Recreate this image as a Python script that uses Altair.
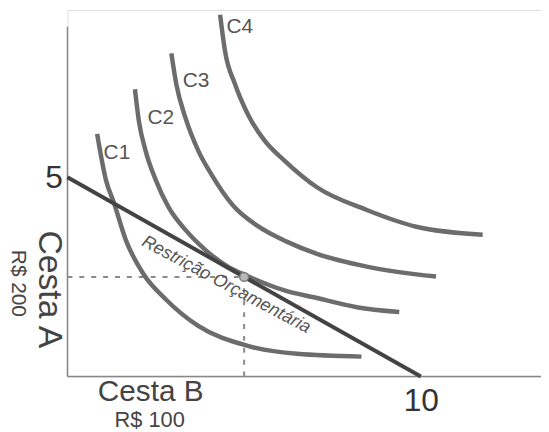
import altair as alt
import pandas as pd

# Indifference curves
c1_x = [0.84, 1.09, 1.32, 1.65, 2.16, 2.78, 3.70, 5.10, 6.50, 8.32]
c1_y = [6.09, 4.93, 4.35, 3.43, 2.56, 1.94, 1.27, 0.77, 0.57, 0.50]
c2_x = [1.91, 2.02, 2.21, 2.50, 2.86, 3.34, 3.90, 4.54, 5.05, 6.14, 7.06, 8.19, 9.39]
c2_y = [7.21, 6.42, 5.67, 4.93, 4.25, 3.68, 3.18, 2.76, 2.54, 2.16, 1.97, 1.74, 1.62]
c3_x = [2.94, 3.08, 3.34, 3.70, 4.09, 4.68, 5.38, 6.22, 7.06, 8.47, 10.43]
c3_y = [8.11, 7.34, 6.49, 5.67, 5.05, 4.30, 3.78, 3.38, 3.08, 2.76, 2.51]
c4_x = [4.32, 4.46, 4.74, 5.10, 5.58, 6.14, 7.06, 8.47, 9.87, 11.75]
c4_y = [9.08, 8.16, 7.34, 6.59, 5.92, 5.42, 4.75, 4.18, 3.76, 3.56]

curve_names = ["C1", "C2", "C3", "C4"]
label_x = [1.40, 2.64, 3.64, 4.88]
label_y = [5.60, 6.49, 7.41, 8.78]

# Budget line
budget_x = [0, 10]
budget_y = [5, 0]

# Optimum point
opt_x = 5
opt_y = 2.5

x_ticks = [10]
y_ticks = [5]

X_MAX = 13.4
Y_MAX = 9.2
Y_AXIS_TOP = 8.78

FONT = "Liberation Sans"

rows = []
for name, xs_, ys_ in zip(curve_names, [c1_x, c2_x, c3_x, c4_x], [c1_y, c2_y, c3_y, c4_y]):
    for i, (a, b) in enumerate(zip(xs_, ys_)):
        rows.append({"curve": name, "i": i, "x": a, "y": b})
curves = pd.DataFrame(rows)
budget = pd.DataFrame({"x": budget_x, "y": budget_y})
labels = pd.DataFrame({"label": curve_names, "x": label_x, "y": label_y})

xaxis = alt.Axis(values=x_ticks, labelFontSize=32, labelFont=FONT, labelColor="#333",
                 domain=False, ticks=False, grid=False, title=None, labelPadding=9)
yaxis = alt.Axis(values=y_ticks, labelFontSize=32, labelFont=FONT, labelColor="#333",
                 domain=False, ticks=False, grid=False, title=None, labelPadding=5)
xs = alt.Scale(domain=[0, X_MAX], nice=False, zero=False)
ys = alt.Scale(domain=[0, Y_MAX], nice=False, zero=False)

def X(f="x"):
    return alt.X(f + ":Q", scale=xs, axis=xaxis)

def Y(f="y"):
    return alt.Y(f + ":Q", scale=ys, axis=yaxis)

# axis lines
axes_df = pd.DataFrame({"x": [0, 0], "x2": [0, X_MAX], "y": [0, 0], "y2": [Y_AXIS_TOP, 0]})
axis_lines = alt.Chart(axes_df).mark_rule(color="#888", strokeWidth=1.5).encode(
    x=X(), x2="x2:Q", y=Y(), y2="y2:Q")

# dashed guides
guides_df = pd.DataFrame({"x": [0, opt_x], "x2": [opt_x, opt_x], "y": [opt_y, 0], "y2": [opt_y, opt_y]})
guides = alt.Chart(guides_df).mark_rule(color="#8a8a8a", strokeWidth=2, strokeDash=[5, 7]).encode(
    x=X(), x2="x2:Q", y=Y(), y2="y2:Q")

curve_lines = alt.Chart(curves).mark_line(color="#6c6c6c", strokeWidth=4.5, interpolate="monotone",
                                          strokeCap="butt").encode(
    x=X(), y=Y(), detail="curve:N", order="i:Q")

budget_line = alt.Chart(budget).mark_line(color="#434343", strokeWidth=4).encode(x=X(), y=Y())

point = alt.Chart(pd.DataFrame({"x": [opt_x], "y": [opt_y]})).mark_point(
    filled=True, color="#b8b8b8", stroke="#7a7a7a", strokeWidth=1.5, size=80, opacity=1).encode(
    x=X(), y=Y())

curve_labels = alt.Chart(labels).mark_text(font=FONT, fontSize=21, color="#555", align="center",
                                           baseline="middle").encode(
    x=X(), y=Y(), text="label:N")

budget_text = alt.Chart(pd.DataFrame({"x": [4.49], "y": [2.30], "t": ["Restrição Orçamentária"]})).mark_text(
    font=FONT, fontSize=18, fontStyle="italic", color="#555", angle=28, align="center",
    baseline="middle").encode(x=X(), y=Y(), text="t:N")

cesta_a = alt.Chart(pd.DataFrame({"t": ["Cesta A"]})).mark_text(font=FONT, fontSize=34, color="#444", angle=90,
                                                              align="center", baseline="middle").encode(
    x=alt.value(-19), y=alt.value(282), text="t:N")
rs200 = alt.Chart(pd.DataFrame({"t": ["R$ 200"]})).mark_text(font=FONT, fontSize=21, color="#444", angle=90,
                                                           align="center", baseline="middle").encode(
    x=alt.value(-50), y=alt.value(276), text="t:N")
cesta_b = alt.Chart(pd.DataFrame({"t": ["Cesta B"]})).mark_text(font=FONT, fontSize=30, color="#444",
                                                              align="center", baseline="alphabetic").encode(
    x=alt.value(84), y=alt.value(395), text="t:N")
rs100 = alt.Chart(pd.DataFrame({"t": ["R$ 100"]})).mark_text(font=FONT, fontSize=22, color="#444",
                                                           align="center", baseline="alphabetic").encode(
    x=alt.value(83), y=alt.value(421), text="t:N")

chart = alt.layer(axis_lines, guides, curve_lines, budget_line, point, curve_labels, budget_text,
                  cesta_a, rs200, cesta_b, rs100).properties(
    width=478, height=370,
    autosize=alt.AutoSizeParams(type="none"),
    padding={"left": 60, "top": 0, "right": 0, "bottom": 54},
).configure_view(stroke=None).configure(background="white")

chart.save("out.html", embed_options={"renderer": "svg", "actions": False})
